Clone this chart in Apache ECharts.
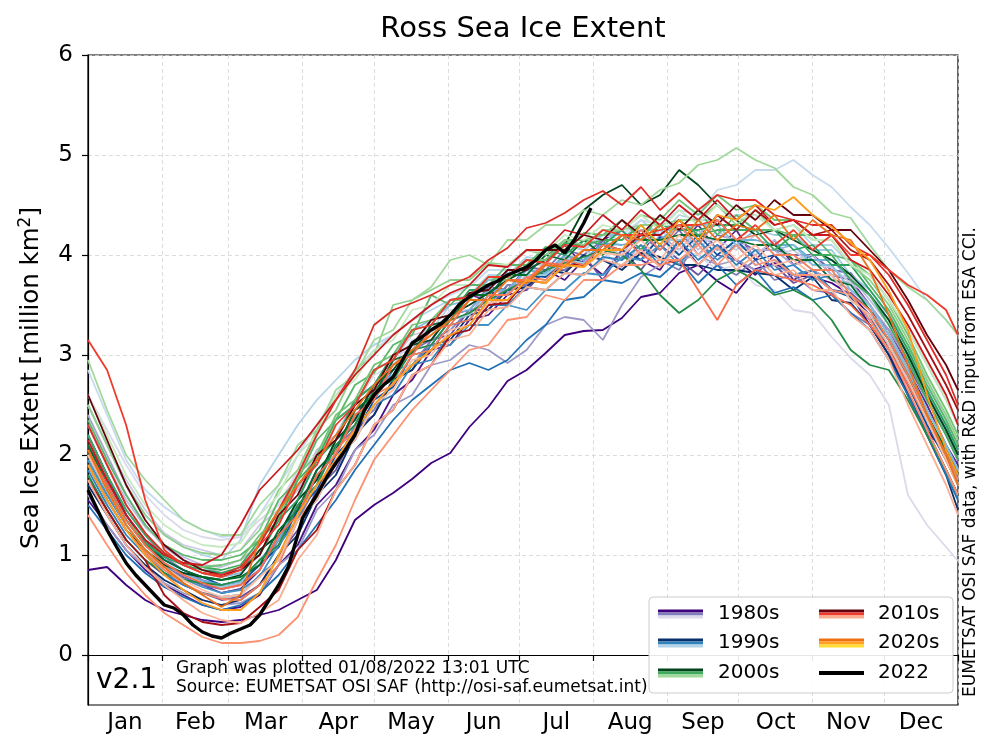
<!DOCTYPE html>
<html><head><meta charset="utf-8">
<script src="https://cdn.jsdelivr.net/npm/echarts@6/dist/echarts.min.js"></script>
<style>html,body{margin:0;padding:0;background:#fff}#c{width:1000px;height:751px}</style>
</head><body><div id="c"></div>
<script>
// ---- axes / labels ----
const monthStarts = [0,31,59,90,120,151,181,212,243,273,304,334,365];
const monthLabels = ['Jan','Feb','Mar','Apr','May','Jun','Jul','Aug','Sep','Oct','Nov','Dec'];
const yTicks = [0,1,2,3,4,5,6];

// ---- sample days (day of year) for 1979-2021 ----
const days = [0,8,16,24,32,40,48,56,64,72,80,88,96,104,112,120,128,136,144,152,160,168,176,184,192,200,208,216,224,232,240,248,256,264,272,280,288,296,304,312,320,328,336,344,352,360,365];

// ---- extent values (million km2) ----
const y1979 = [0.85,0.88,0.7,0.55,0.45,0.4,0.35,0.33,0.35, 0.4,0.45,0.55,0.65,0.95,1.35,1.5,1.62,1.76,1.92,2.02, 2.28,2.48,2.74,2.85,3.02,3.2,3.24,3.25,3.37,3.58,3.62,3.82,3.9,3.74,3.62,3.86,3.92,3.8,3.78,3.72,3.6, 3.4,3.05,2.6,2.25,2.0,1.86];
const y1980 = [1.55,1.3,1.05,0.85,0.7,0.6,0.5,0.45,0.48, 0.6,0.9,1.1,1.5,1.7,2.05,2.25,2.6,2.75,3.05,3.1, 3.35,3.4,3.6,3.65,3.85,3.75,3.95,3.8,4.05,3.95,3.85,4.15,3.9,4.1,3.95,3.8,4.0,3.75,3.85,3.65,3.6, 3.3,3.0,2.62,2.25,1.85,1.6];
const y1981 = [2.1,1.75,1.4,1.12,0.9,0.78,0.7,0.62,0.66, 0.85,1.2,1.45,1.85,2.05,2.45,2.55,2.95,3.0,3.3,3.35, 3.6,3.55,3.85,3.8,4.0,4.1,3.9,4.15,4.25,4.0,4.3,4.1,4.3,4.05,4.25,3.95,4.15,3.9,4.0,3.8,3.75, 3.5,3.2,2.85,2.5,2.1,1.9];
const y1982 = [1.8,1.45,1.15,0.95,0.8,0.7,0.62,0.55,0.58, 0.7,1.0,1.25,1.65,1.85,2.25,2.4,2.75,2.85,3.15,3.2, 3.45,3.45,3.7,3.65,3.85,3.85,4.0,3.75,4.05,3.85,4.1,3.95,3.8,4.0,3.95,3.85,3.9,3.72,3.8,3.65,3.62, 3.45,3.25,2.9,2.55,2.2,1.95];
const y1983 = [1.95,1.6,1.3,1.05,0.88,0.78,0.7,0.66,0.7, 0.95,1.15,1.5,1.7,2.1,2.25,2.65,2.8,3.05,3.15,3.4, 3.45,3.68,3.65,3.88,3.85,4.05,4.0,4.15,3.95,4.2,4.05,4.25,4.0,4.2,4.15,4.05,4.05,4.0,4.0,3.85,3.82, 3.6,3.35,3.0,2.65,2.25,2.0];
const y1984 = [2.2,1.8,1.45,1.2,0.98,0.85,0.75,0.7,0.72, 0.85,1.15,1.35,1.7,1.9,2.3,2.45,2.75,2.9,3.15,3.25, 3.45,3.5,3.7,3.7,3.9,3.85,4.0,3.95,3.88,4.1,3.95,3.85,4.15,3.9,3.8,3.95,3.75,3.8,3.65,3.62,3.42, 3.3,3.05,2.8,2.4,2.05,1.8];
const y1985 = [1.6,1.3,1.05,0.88,0.72,0.62,0.55,0.5,0.52, 0.62,0.9,1.05,1.45,1.65,2.05,2.2,2.5,2.6,2.9,2.95, 3.1,3.05,2.92,3.05,3.3,3.38,3.35,3.15,3.5,3.78,3.9,3.95,4.0,3.9,3.95,3.85,3.9,3.8,3.85,3.75,3.65, 3.5,3.25,2.95,2.6,2.3,2.05];
const y1986 = [2.4,2.0,1.6,1.3,1.08,0.95,0.88,0.82,0.85, 1.05,1.2,1.55,1.75,2.15,2.3,2.65,2.78,3.05,3.1,3.35, 3.4,3.65,3.62,3.85,3.8,3.98,3.95,4.1,4.05,3.95,4.2,4.05,4.25,4.05,4.1,4.05,4.05,3.9,3.95,3.75,3.72, 3.5,3.2,2.85,2.45,2.1,1.85];
const y1987 = [2.3,1.9,1.55,1.28,1.1,0.98,0.9,0.88,0.95, 1.1,1.45,1.65,2.05,2.2,2.55,2.7,3.0,3.05,3.35,3.4, 3.6,3.65,3.82,3.8,4.0,3.95,4.15,4.1,4.0,4.25,4.1,4.3,4.05,4.25,4.1,4.0,4.15,3.95,4.0,3.8,3.78, 3.55,3.3,2.95,2.55,2.2,1.95];
const y1988 = [2.5,2.1,1.75,1.45,1.22,1.1,1.05,1.0,1.05, 1.3,1.45,1.85,2.0,2.35,2.5,2.85,2.95,3.2,3.25,3.5, 3.55,3.75,3.75,3.9,3.9,4.1,4.05,3.95,4.2,4.05,4.25,4.1,4.15,4.15,4.05,4.2,4.0,4.05,3.9,3.88,3.72, 3.6,3.4,3.1,2.75,2.35,2.1];
const y1989 = [2.6,2.25,1.9,1.6,1.4,1.25,1.18,1.15,1.18, 1.35,1.5,1.85,2.0,2.35,2.5,2.8,2.9,3.15,3.2,3.45, 3.45,3.65,3.65,3.85,3.8,3.95,3.9,4.05,3.85,4.1,3.9,4.05,4.0,3.85,3.9,3.7,3.65,3.45,3.42,3.18,2.97, 2.8,2.5,1.6,1.3,1.08,0.94];
const y1990 = [1.7,1.4,1.1,0.9,0.75,0.65,0.55,0.5,0.55, 0.7,1.0,1.2,1.6,1.8,2.2,2.4,2.75,2.85,3.1,3.15, 3.4,3.45,3.65,3.68,3.85,3.82,4.0,3.95,3.85,4.02,3.98,3.9,3.9,3.85,3.85,3.82,3.8,3.65,3.78,3.55,3.52, 3.3,3.0,2.6,2.2,1.8,1.45];
const y1991 = [2.2,1.8,1.4,1.15,0.95,0.85,0.78,0.7,0.72, 0.9,1.08,1.45,1.65,2.0,2.2,2.55,2.68,3.0,3.05,3.3, 3.35,3.6,3.6,3.8,3.78,3.95,3.92,4.1,4.05,3.95,4.18,4.0,4.2,4.0,4.15,3.95,4.0,3.8,3.85,3.65,3.58, 3.35,3.05,2.7,2.3,1.95,1.7];
const y1992 = [1.5,1.25,1.0,0.82,0.68,0.58,0.5,0.45,0.5, 0.62,0.8,1.05,1.3,1.55,1.85,2.1,2.35,2.55,2.7,2.85, 2.92,2.85,2.95,3.15,3.3,3.55,3.58,3.75,3.72,3.82,3.78,3.95,3.72,3.9,3.7,3.85,3.62,3.68,3.55,3.6,3.42, 3.25,2.95,2.6,2.2,1.8,1.55];
const y1993 = [1.85,1.5,1.2,1.0,0.82,0.7,0.62,0.58,0.6, 0.8,0.95,1.35,1.55,1.95,2.15,2.5,2.6,2.9,2.95,3.2, 3.25,3.5,3.5,3.68,3.65,3.82,3.8,3.98,3.95,4.1,3.9,4.15,3.95,4.1,3.9,4.05,3.85,3.9,3.75,3.8,3.55, 3.4,3.15,2.8,2.4,2.0,1.75];
const y1994 = [1.95,1.6,1.3,1.05,0.88,0.76,0.68,0.62,0.65, 0.78,1.1,1.35,1.8,2.0,2.4,2.55,2.85,2.9,3.1,3.1, 3.3,3.3,3.5,3.45,3.65,3.65,3.82,3.8,3.98,3.95,4.1,3.9,4.15,3.95,4.1,3.9,3.95,3.8,3.85,3.65,3.6, 3.35,3.1,2.75,2.35,2.0,1.75];
const y1995 = [2.1,1.7,1.35,1.1,0.92,0.82,0.74,0.7,0.74, 0.95,1.15,1.55,1.75,2.15,2.35,2.7,2.8,3.1,3.15,3.4, 3.45,3.65,3.65,3.85,3.82,4.0,3.95,4.12,4.1,4.15,4.15,4.3,4.1,4.35,4.15,4.15,4.1,4.1,3.95,3.95,3.75, 3.6,3.35,3.0,2.6,2.25,2.0];
const y1996 = [2.3,1.9,1.5,1.22,1.02,0.9,0.82,0.78,0.82, 1.0,1.35,1.55,1.95,2.15,2.55,2.7,3.0,3.25,3.35,3.5, 3.55,3.75,3.75,3.95,3.95,4.1,4.05,4.2,4.2,4.25,4.25,4.25,4.3,4.3,4.1,4.25,4.05,4.1,3.9,3.9,3.65, 3.5,3.2,2.85,2.45,2.1,1.85];
const y1997 = [2.0,1.65,1.3,1.05,0.9,0.8,0.72,0.68,0.72, 0.95,1.1,1.5,1.7,2.1,2.3,2.65,2.75,3.05,3.1,3.35, 3.4,3.6,3.6,3.8,3.8,3.95,3.92,4.1,4.05,4.2,4.15,4.15,4.2,4.4,4.25,4.25,4.2,4.2,4.05,4.05,3.8, 3.65,3.4,3.05,2.65,2.3,2.05];
const y1998 = [2.5,2.1,1.7,1.4,1.2,1.08,1.0,0.95,1.15, 1.7,2.0,2.3,2.55,2.75,2.95,3.1,3.2,3.35,3.45,3.55, 3.6,3.8,3.8,3.98,3.95,4.1,4.05,4.2,4.15,4.35,4.2,4.4,4.35,4.35,4.4,4.4,4.25,4.3,4.1,4.1,3.9, 3.8,3.55,3.25,2.9,2.55,2.3];
const y1999 = [2.85,2.4,1.95,1.65,1.48,1.35,1.25,1.18,1.2, 1.4,1.7,2.0,2.3,2.6,2.85,3.05,3.2,3.35,3.5,3.6, 3.68,3.85,3.85,4.05,4.0,4.15,4.1,4.25,4.2,4.35,4.3,4.45,4.4,4.65,4.7,4.85,4.85,4.95,4.8,4.68,4.48, 4.3,4.07,3.82,3.55,3.35,3.2];
const y2000 = [1.9,1.55,1.25,1.05,0.9,0.82,0.78,0.75,0.8, 1.05,1.2,1.55,1.75,2.15,2.35,2.7,2.85,3.1,3.15,3.4, 3.5,3.62,3.75,3.85,3.95,4.1,4.45,4.6,4.7,4.5,4.6,4.85,4.7,4.5,4.35,4.2,4.25,4.15,4.05,3.95,3.8, 3.6,3.35,3.0,2.6,2.25,2.0];
const y2001 = [2.1,1.7,1.35,1.1,0.95,0.85,0.78,0.75,0.78, 0.9,1.25,1.45,1.85,2.05,2.45,2.6,2.95,3.02,3.3,3.35, 3.6,3.6,3.8,3.8,4.0,3.95,4.15,4.0,4.2,4.15,4.15,4.2,4.2,4.15,4.15,4.1,4.1,3.95,3.95,3.75,3.7, 3.45,3.15,2.8,2.4,2.05,1.8];
const y2002 = [1.8,1.45,1.15,0.95,0.82,0.75,0.72,0.7,0.75, 0.95,1.1,1.5,1.7,2.1,2.3,2.65,2.75,3.05,3.1,3.35, 3.42,3.55,3.65,3.75,3.85,3.92,3.98,4.05,4.0,3.85,3.6,3.42,3.55,3.75,3.85,3.75,3.6,3.65,3.55,3.35,3.05, 2.9,2.85,2.55,2.2,1.85,1.6];
const y2003 = [2.0,1.65,1.35,1.12,0.98,0.9,0.85,0.82,0.88, 1.0,1.35,1.55,1.95,2.15,2.55,2.7,3.0,3.1,3.35,3.4, 3.65,3.65,3.85,3.85,4.05,4.0,4.15,4.1,4.25,4.05,4.3,4.25,4.25,4.3,4.3,4.25,4.25,4.05,4.1,3.9,3.9, 3.65,3.4,3.05,2.65,2.3,2.05];
const y2004 = [2.2,1.8,1.45,1.2,1.02,0.92,0.88,0.85,0.9, 1.15,1.35,1.75,1.95,2.35,2.5,2.85,2.95,3.25,3.3,3.55, 3.58,3.78,3.78,3.95,3.95,4.12,4.1,4.15,4.15,4.3,4.1,4.35,4.2,4.25,4.25,4.25,4.05,4.2,4.0,4.0,3.75, 3.6,3.3,2.95,2.55,2.2,1.95];
const y2005 = [2.35,1.95,1.6,1.3,1.1,1.0,0.95,0.95,1.0, 1.15,1.55,1.75,2.15,2.35,2.7,2.82,3.1,3.2,3.6,3.5, 3.7,3.7,3.9,3.9,4.08,4.05,4.22,4.2,4.35,4.15,4.4,4.25,4.45,4.2,4.4,4.25,4.25,4.2,4.2,4.0,3.95, 3.7,3.45,3.1,2.7,2.35,2.1];
const y2006 = [2.0,1.65,1.35,1.15,1.0,0.92,0.88,0.9,0.95, 1.2,1.4,1.8,2.0,2.4,2.55,2.9,3.0,3.3,3.35,3.55, 3.55,3.78,3.75,3.95,3.95,4.15,4.15,4.2,4.25,4.4,4.35,4.55,4.4,4.6,4.45,4.5,4.35,4.35,4.2,4.2,3.95, 3.8,3.55,3.2,2.8,2.45,2.2];
const y2007 = [2.5,2.1,1.7,1.4,1.2,1.08,1.02,1.0,1.05, 1.25,1.65,1.85,2.25,2.45,2.85,3.0,3.5,3.55,3.65,3.75, 3.75,3.92,3.9,4.05,4.0,4.15,4.1,4.25,4.25,4.3,4.3,4.35,4.35,4.5,4.3,4.45,4.25,4.3,4.15,4.15,3.9, 3.75,3.5,3.15,2.75,2.4,2.15];
const y2008 = [2.95,2.45,2.0,1.75,1.55,1.35,1.25,1.2,1.2, 1.5,1.7,2.1,2.25,2.65,2.8,3.15,3.25,3.55,3.68,3.95, 4.0,3.9,4.15,4.15,4.3,4.3,4.45,4.4,4.55,4.5,4.65,4.72,4.9,4.95,5.07,4.95,4.87,4.68,4.6,4.42,4.37, 4.1,3.85,3.68,3.55,3.35,3.2];
const y2009 = [2.6,2.2,1.8,1.5,1.3,1.18,1.1,1.08,1.12, 1.4,1.6,2.0,2.2,2.6,2.75,3.05,3.15,3.45,3.5,3.7, 3.7,3.9,3.9,4.05,4.03,4.2,4.15,4.3,4.25,4.4,4.25,4.45,4.3,4.5,4.35,4.4,4.25,4.3,4.15,4.15,3.9, 3.8,3.55,3.25,2.9,2.55,2.3];
const y2010 = [2.6,2.15,1.7,1.35,1.1,0.95,0.85,0.8,0.85, 1.0,1.4,1.6,2.0,2.15,2.5,2.65,3.0,3.1,3.35,3.4, 3.62,3.65,3.85,3.85,4.05,4.05,4.2,4.15,4.35,4.2,4.4,4.25,4.45,4.3,4.5,4.35,4.55,4.4,4.4,4.25,4.25, 4.05,3.85,3.55,3.2,2.9,2.65];
const y2011 = [1.75,1.45,1.15,0.95,0.6,0.42,0.33,0.3,0.32, 0.48,0.65,1.05,1.25,1.65,1.9,2.3,2.45,2.8,2.9,3.2, 3.25,3.5,3.52,3.75,3.72,3.9,3.9,4.1,4.05,4.2,4.2,4.35,4.15,4.4,4.25,4.45,4.3,4.35,4.2,4.25,4.05, 3.95,3.7,3.4,3.05,2.7,2.45];
const y2012 = [2.15,1.75,1.4,1.15,1.0,0.92,0.9,1.0,1.3, 1.65,1.85,2.05,2.3,2.55,2.8,3.0,3.2,3.35,3.5,3.62, 3.7,3.9,3.88,4.05,4.05,4.25,4.2,4.4,4.25,4.45,4.3,4.5,4.35,4.55,4.35,4.5,4.3,4.35,4.2,4.2,3.95, 3.85,3.6,3.3,2.95,2.6,2.3];
const y2013 = [2.3,1.9,1.5,1.22,1.02,0.9,0.82,0.8,0.88, 1.1,1.45,1.8,2.2,2.55,2.85,3.3,3.45,3.52,3.6,3.7, 3.78,3.95,4.07,4.27,4.32,4.42,4.55,4.64,4.5,4.68,4.45,4.62,4.45,4.6,4.55,4.55,4.4,4.35,4.3,4.3,4.1, 4.0,3.8,3.5,3.15,2.8,2.5];
const y2014 = [3.15,2.85,2.3,1.55,1.05,0.9,0.82,0.78,0.85, 1.1,1.3,1.7,1.9,2.3,2.5,2.85,2.95,3.25,3.3,3.55, 3.58,3.78,3.78,3.95,3.92,4.1,4.08,4.25,4.2,4.2,4.25,4.3,4.3,4.35,4.15,4.3,4.1,4.25,4.05,4.2,4.0, 4.0,3.85,3.7,3.6,3.45,3.2];
const y2015 = [2.05,1.7,1.35,1.1,0.92,0.8,0.72,0.66,0.7, 0.85,1.2,1.4,1.8,2.0,2.4,2.55,2.9,3.0,3.25,3.3, 3.55,3.55,3.75,3.75,3.92,3.9,4.05,4.05,4.2,4.0,3.9,3.95,3.65,3.35,3.7,3.85,3.8,3.75,3.7,3.6,3.5, 3.3,3.05,2.7,2.35,1.95,1.7];
const y2016 = [1.9,1.55,1.25,1.02,0.85,0.72,0.62,0.56,0.55, 0.7,0.9,1.35,1.6,2.05,2.25,2.6,2.7,3.0,3.05,3.3, 3.35,3.6,3.6,3.78,3.75,3.95,3.9,4.1,4.05,4.25,4.05,4.3,4.1,4.35,4.15,4.2,4.0,4.0,3.85,3.85,3.6, 3.45,3.15,2.8,2.4,2.0,1.75];
const y2017 = [1.4,1.1,0.82,0.6,0.42,0.3,0.18,0.12,0.12, 0.14,0.2,0.38,0.75,1.1,1.55,1.95,2.2,2.45,2.65,2.85, 3.05,3.1,3.35,3.38,3.6,3.55,3.75,3.75,3.9,3.9,3.95,3.95,4.1,3.9,4.1,3.9,3.95,3.8,3.8,3.65,3.6, 3.35,3.05,2.65,2.25,1.85,1.6];
const y2018 = [1.75,1.4,1.1,0.88,0.7,0.55,0.42,0.35,0.32, 0.42,0.55,0.95,1.2,1.65,1.9,2.3,2.45,2.8,2.9,3.15, 3.2,3.45,3.48,3.68,3.65,3.82,3.8,3.95,3.9,4.05,3.88,4.1,3.9,4.08,3.85,4.0,3.8,3.85,3.65,3.65,3.4, 3.25,2.95,2.5,2.1,1.7,1.4];
const y2019 = [2.0,1.65,1.3,1.05,0.88,0.75,0.65,0.58,0.6, 0.78,0.95,1.35,1.55,1.95,2.15,2.5,2.65,2.95,3.0,3.25, 3.3,3.52,3.55,3.75,3.72,3.9,3.88,4.02,4.0,4.15,3.95,4.2,4.0,4.15,3.95,4.1,3.9,3.95,3.8,3.8,3.55, 3.4,3.1,2.75,2.35,1.95,1.7];
const y2020 = [2.05,1.65,1.3,1.05,0.88,0.72,0.6,0.48,0.6, 1.15,1.45,1.7,1.95,2.2,2.45,2.7,2.9,3.05,3.2,3.35, 3.55,3.55,3.75,3.72,3.9,3.88,4.05,4.05,4.2,4.15,4.3,4.1,4.35,4.15,4.3,4.25,4.4,4.15,4.35,4.2,4.15, 3.85,3.4,2.9,2.4,2.0,1.7];
const y2021 = [1.9,1.55,1.25,1.0,0.8,0.65,0.52,0.45,0.45, 0.62,1.0,1.4,1.7,1.95,2.25,2.5,2.72,2.9,3.05,3.2, 3.3,3.55,3.55,3.75,3.72,3.9,3.88,4.05,4.05,4.3,4.1,4.35,4.15,4.4,4.35,4.5,4.45,4.58,4.4,4.28,4.12, 3.95,3.64,3.25,2.6,2.05,1.8];

// ---- current year 2022 (finer sampling) ----
const days2022 = [0,4,8,12,16,20,24,28,32,36,40,44,48,52,56,60,64,68,72,76,80,84,88,90,92,96,100,104,108,112,116,120,124,128,132,136,140,144,148,152,156,160,164,168,172,176,180,184,188,192,196,200,204,208,211];
const y2022 = [1.65,1.45,1.25,1.08,0.92,0.8,0.7,0.6,0.5,0.47,0.4,0.3,0.23,0.19,0.17,0.22,0.26,0.3,0.4,0.55,0.7,0.88,1.2,1.37,1.45,1.6,1.77,1.92,2.05,2.2,2.45,2.6,2.7,2.78,2.95,3.12,3.18,3.25,3.31,3.4,3.51,3.58,3.64,3.7,3.74,3.8,3.84,3.88,3.95,4.05,4.1,4.02,4.15,4.32,4.47];

const yearValues = {
  1979:y1979,1980:y1980,1981:y1981,1982:y1982,1983:y1983,1984:y1984,1985:y1985,1986:y1986,1987:y1987,1988:y1988,1989:y1989,
  1990:y1990,1991:y1991,1992:y1992,1993:y1993,1994:y1994,1995:y1995,1996:y1996,1997:y1997,1998:y1998,1999:y1999,
  2000:y2000,2001:y2001,2002:y2002,2003:y2003,2004:y2004,2005:y2005,2006:y2006,2007:y2007,2008:y2008,2009:y2009,
  2010:y2010,2011:y2011,2012:y2012,2013:y2013,2014:y2014,2015:y2015,2016:y2016,2017:y2017,2018:y2018,2019:y2019,
  2020:y2020,2021:y2021
};
const yearColors = {
  1979:'#3f007d',1980:'#4a1486',1981:'#54278f',1982:'#6a51a3',1983:'#756bb1',1984:'#807dba',1985:'#9e9ac8',1986:'#a8a6d0',1987:'#bcbddc',1988:'#cbc9e2',1989:'#dadaeb',
  1990:'#08306b',1991:'#08519c',1992:'#2171b5',1993:'#3182bd',1994:'#4292c6',1995:'#6baed6',1996:'#85bcdc',1997:'#9ecae1',1998:'#b3d3e8',1999:'#c6dbef',
  2000:'#00441b',2001:'#006d2c',2002:'#238b45',2003:'#2ca25f',2004:'#41ab5d',2005:'#5bb86a',2006:'#74c476',2007:'#8ed08b',2008:'#a1d99b',2009:'#c7e9c0',
  2010:'#67000d',2011:'#a50f15',2012:'#cb181d',2013:'#de2d26',2014:'#ef3b2c',2015:'#fb6a4a',2016:'#f4805e',2017:'#fc9272',2018:'#fcae91',2019:'#fcbba1',
  2020:'#e8731a',2021:'#ff9e1b'
};
const legendItems = [
  {label:'1980s', colors:['#3f007d','#807dba','#dadaeb']},
  {label:'1990s', colors:['#08306b','#3182bd','#b3d3e8']},
  {label:'2000s', colors:['#00441b','#41ab5d','#a1d99b']},
  {label:'2010s', colors:['#67000d','#ef3b2c','#fcae91']},
  {label:'2020s', colors:['#f07010','#ffa020','#ffdc30']},
  {label:'2022',  colors:['#000000']}
];

const FONT = '"DejaVu Sans", "Liberation Sans", sans-serif';
const chart = echarts.init(document.getElementById('c'), null, {renderer:'canvas'});

const series = [];
Object.keys(yearValues).forEach(function(yr){
  const vals = yearValues[yr];
  series.push({
    name: yr, type:'line', showSymbol:false, symbol:'none', silent:true, animation:false,
    data: days.map(function(d,i){ return [d, vals[i]]; }),
    lineStyle:{color:yearColors[yr], width:1.8}, itemStyle:{color:yearColors[yr]}
  });
});
series.push({
  name:'2022', type:'line', showSymbol:false, symbol:'none', silent:true, animation:false, z:5,
  data: days2022.map(function(d,i){ return [d, y2022[i]]; }),
  lineStyle:{color:'#000', width:3.4}, itemStyle:{color:'#000'}
});

const midMonths = monthStarts.slice(0,12).map(function(s,i){ return (s+monthStarts[i+1])/2; });

// legend graphics
const legendGraphics = [];
legendGraphics.push({type:'rect', shape:{x:649,y:597,width:304,height:96,r:4}, style:{fill:'rgba(255,255,255,0.9)', stroke:'#cccccc', lineWidth:1}, z:100});
legendItems.forEach(function(it, k){
  const col = k < 3 ? 0 : 1, row = k % 3;
  const ix = col === 0 ? 658 : 819, tx = col === 0 ? 718 : 878;
  const cy = [614, 643, 673][row];
  if (it.colors.length === 3) {
    it.colors.forEach(function(c, j){
      legendGraphics.push({type:'rect', shape:{x:ix, y:cy-4.5+j*3, width:45, height:3}, style:{fill:c}, z:101});
    });
  } else {
    legendGraphics.push({type:'rect', shape:{x:ix, y:cy-2, width:45, height:4}, style:{fill:'#000'}, z:101});
  }
  legendGraphics.push({type:'text', x:tx, y:cy, style:{text:it.label, font:'20px '+FONT, fill:'#000', align:'left', verticalAlign:'middle'}, z:101});
});

chart.setOption({
  backgroundColor:'#fff',
  animation:false,
  grid:{left:88, right:42, top:55, bottom:46, show:true, borderColor:'#000', borderWidth:1.2, backgroundColor:'transparent'},
  xAxis:{
    type:'value', min:0, max:365,
    axisLine:{show:true, lineStyle:{color:'#000', width:1.2}},
    axisTick:{show:true, customValues:monthStarts, length:6, lineStyle:{color:'#000', width:1.2}},
    axisLabel:{customValues:midMonths, margin:7, fontSize:23, color:'#000', fontFamily:FONT,
      formatter:function(v){ for (let i=0;i<12;i++){ if (v>monthStarts[i] && v<monthStarts[i+1]) return monthLabels[i]; } return ''; }},
    splitLine:{show:true, lineStyle:{color:'#d4d4d4', type:[4,3], width:0.8}}
  },
  yAxis:{
    type:'value', min:-0.5, max:6,
    axisLine:{show:true, lineStyle:{color:'#000', width:1.2}},
    axisTick:{show:true, customValues:yTicks, length:6, lineStyle:{color:'#000', width:1.2}},
    axisLabel:{customValues:yTicks, margin:15, fontSize:23, color:'#000', fontFamily:FONT},
    splitLine:{show:true, lineStyle:{color:'#d4d4d4', type:[4,3], width:0.8}}
  },
  graphic:[
    {type:'text', x:523, y:29, style:{text:'Ross Sea Ice Extent', font:'29px '+FONT, fill:'#000', align:'center', verticalAlign:'middle'}},
    {type:'text', x:32, y:378, rotation:Math.PI/2, style:{
      text:'{a|Sea Ice Extent [million km}{s|2}{a|]}', align:'center', verticalAlign:'middle', fill:'#000',
      rich:{a:{fontSize:24.5, fontFamily:FONT, fill:'#000', lineHeight:30}, s:{fontSize:17, fontFamily:FONT, fill:'#000', verticalAlign:'top', lineHeight:30}}}},
    {type:'text', x:971, y:462, rotation:Math.PI/2, style:{text:'EUMETSAT OSI SAF data, with R&D input from ESA CCI.', font:'17px '+FONT, fill:'#000', align:'center', verticalAlign:'middle'}},
    {type:'text', x:96, y:681, style:{text:'v2.1', font:'28px '+FONT, fill:'#000', align:'left', verticalAlign:'middle'}, z:50},
    {type:'text', x:176, y:669, style:{text:'Graph was plotted 01/08/2022 13:01 UTC', font:'17px '+FONT, fill:'#000', align:'left', verticalAlign:'middle'}, z:50},
    {type:'text', x:176, y:688, style:{text:'Source: EUMETSAT OSI SAF (http://osi-saf.eumetsat.int)', font:'17px '+FONT, fill:'#000', align:'left', verticalAlign:'middle'}, z:50}
  ].concat(legendGraphics),
  series: series
});
</script>
</body></html>
